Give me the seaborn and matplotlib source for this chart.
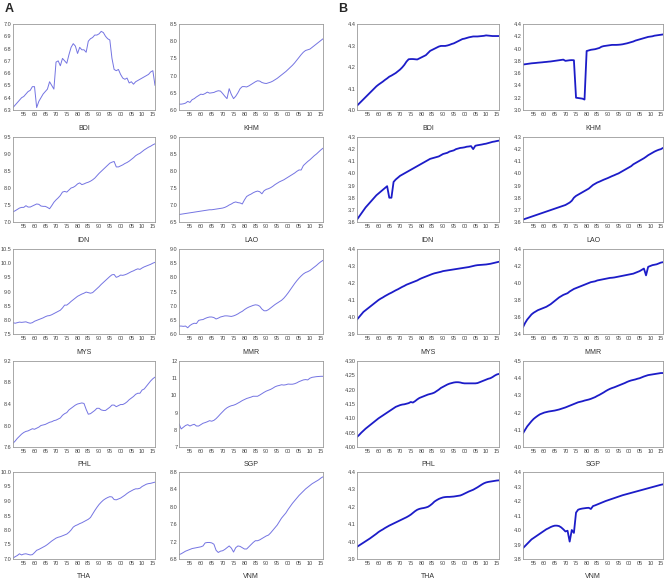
import numpy as np
import pandas as pd
import matplotlib
matplotlib.use('Agg')
import matplotlib.pyplot as plt
import seaborn as sns

sns.set_style('white')
plt.rcParams['font.family'] = ['Liberation Sans', 'DejaVu Sans']

years = list(range(1950, 2017))
countries = ['BDI', 'KHM', 'IDN', 'LAO', 'MYS', 'MMR', 'PHL', 'SGP', 'THA', 'VNM']

# ---- Panel A series ----
A_BDI = [6.32, 6.34, 6.36, 6.38, 6.40, 6.41, 6.43, 6.45, 6.46, 6.49,
         6.49, 6.32, 6.37, 6.40, 6.43, 6.45, 6.47, 6.53, 6.50, 6.47,
         6.69, 6.70, 6.66, 6.72, 6.70, 6.68, 6.75, 6.81, 6.84, 6.82,
         6.76, 6.81, 6.79, 6.79, 6.77, 6.86, 6.88, 6.89, 6.91, 6.91,
         6.92, 6.94, 6.93, 6.90, 6.88, 6.87, 6.72, 6.63, 6.62, 6.63,
         6.59, 6.56, 6.55, 6.56, 6.52, 6.53, 6.51, 6.53, 6.54, 6.55,
         6.56, 6.57, 6.58, 6.59, 6.61, 6.62, 6.50]
A_KHM = [6.17, 6.17, 6.18, 6.20, 6.25, 6.22, 6.30, 6.33, 6.38, 6.42,
         6.46, 6.45, 6.48, 6.52, 6.49, 6.50, 6.51, 6.54, 6.56, 6.55,
         6.48, 6.40, 6.33, 6.62, 6.45, 6.33, 6.40, 6.50, 6.62, 6.68,
         6.68, 6.67, 6.70, 6.74, 6.78, 6.82, 6.85, 6.84, 6.80, 6.78,
         6.77, 6.79, 6.81, 6.84, 6.88, 6.92, 6.97, 7.02, 7.07, 7.12,
         7.18, 7.24, 7.30, 7.37, 7.45, 7.53, 7.61, 7.68, 7.73, 7.75,
         7.77, 7.82, 7.87, 7.92, 7.97, 8.02, 8.07]
A_IDN = [7.30, 7.33, 7.37, 7.41, 7.43, 7.43, 7.48, 7.44, 7.44, 7.47,
         7.50, 7.53, 7.52, 7.47, 7.46, 7.46, 7.43, 7.39, 7.48, 7.58,
         7.65, 7.71, 7.78, 7.88, 7.90, 7.88, 7.94, 8.00, 8.02, 8.06,
         8.12, 8.15, 8.10, 8.12, 8.15, 8.17, 8.20, 8.24, 8.29, 8.36,
         8.43, 8.49, 8.55, 8.61, 8.67, 8.73, 8.76, 8.78, 8.62, 8.62,
         8.65, 8.68, 8.72, 8.75, 8.79, 8.84, 8.89, 8.95, 8.99, 9.02,
         9.07, 9.12, 9.16, 9.20, 9.23, 9.27, 9.30]
A_LAO = [6.72, 6.73, 6.74, 6.75, 6.76, 6.77, 6.78, 6.79, 6.80, 6.81,
         6.82, 6.83, 6.84, 6.85, 6.86, 6.86, 6.87, 6.88, 6.89, 6.90,
         6.91, 6.93, 6.96, 7.00, 7.03, 7.07, 7.09, 7.07, 7.06, 7.03,
         7.15, 7.25, 7.29, 7.32, 7.36, 7.39, 7.41, 7.39, 7.33, 7.42,
         7.46, 7.48, 7.51, 7.55, 7.60, 7.64, 7.68, 7.71, 7.74, 7.78,
         7.82, 7.86, 7.90, 7.94, 7.99, 8.03, 8.03, 8.16, 8.22, 8.28,
         8.33, 8.39, 8.45, 8.50, 8.56, 8.62, 8.67]
A_MYS = [7.90, 7.88, 7.90, 7.92, 7.91, 7.92, 7.93, 7.90, 7.88, 7.90,
         7.95, 7.98, 8.01, 8.04, 8.07, 8.11, 8.14, 8.15, 8.18, 8.22,
         8.26, 8.30, 8.34, 8.42, 8.52, 8.52, 8.58, 8.65, 8.71, 8.77,
         8.83, 8.87, 8.91, 8.94, 8.98, 8.96, 8.94, 8.96, 9.03, 9.10,
         9.17, 9.25, 9.32, 9.39, 9.46, 9.53, 9.59, 9.60, 9.50, 9.53,
         9.58, 9.57, 9.59, 9.62, 9.66, 9.70, 9.73, 9.77, 9.80, 9.78,
         9.83, 9.87, 9.90, 9.93, 9.96, 10.00, 10.03]
A_MMR = [6.28, 6.28, 6.27, 6.28, 6.22, 6.30, 6.35, 6.38, 6.37, 6.48,
         6.50, 6.51, 6.55, 6.58, 6.60, 6.60, 6.58, 6.53, 6.56, 6.60,
         6.62, 6.64, 6.64, 6.63, 6.62, 6.64, 6.67, 6.71, 6.76, 6.80,
         6.86, 6.91, 6.95, 6.98, 7.01, 7.03, 7.02, 6.98, 6.88, 6.82,
         6.82, 6.86, 6.92, 6.98, 7.04, 7.09, 7.14, 7.19, 7.26, 7.35,
         7.45, 7.56, 7.67, 7.78, 7.88, 7.97, 8.05, 8.12, 8.17, 8.20,
         8.24, 8.30, 8.36, 8.42, 8.49, 8.55, 8.60]
A_PHL = [7.67, 7.71, 7.76, 7.80, 7.84, 7.87, 7.89, 7.90, 7.92, 7.94,
         7.93, 7.95, 7.97, 8.00, 8.01, 8.02, 8.04, 8.06, 8.07, 8.09,
         8.10, 8.12, 8.14, 8.19, 8.22, 8.24, 8.29, 8.32, 8.35, 8.38,
         8.40, 8.41, 8.42, 8.41, 8.30, 8.21, 8.22, 8.25, 8.28, 8.32,
         8.32, 8.29, 8.28, 8.28, 8.31, 8.34, 8.38, 8.38, 8.35, 8.37,
         8.39, 8.39, 8.41, 8.44, 8.48, 8.51, 8.54, 8.58, 8.60, 8.60,
         8.66, 8.68, 8.73, 8.78, 8.83, 8.87, 8.90]
A_SGP = [8.35, 8.05, 8.15, 8.25, 8.30, 8.22, 8.28, 8.32, 8.22, 8.22,
         8.30, 8.38, 8.42, 8.47, 8.53, 8.50, 8.55, 8.65, 8.78, 8.92,
         9.05, 9.18, 9.28, 9.35, 9.40, 9.43, 9.48, 9.55, 9.62, 9.70,
         9.76, 9.82, 9.86, 9.90, 9.95, 9.95, 9.95, 10.02, 10.10, 10.18,
         10.25, 10.30, 10.35, 10.42, 10.50, 10.55, 10.58, 10.62, 10.60, 10.62,
         10.66, 10.65, 10.65, 10.68, 10.73, 10.80, 10.85, 10.90, 10.92, 10.90,
         11.00, 11.05, 11.07, 11.09, 11.10, 11.11, 11.11]
A_THA = [7.03, 7.08, 7.12, 7.18, 7.14, 7.17, 7.18, 7.16, 7.14, 7.15,
         7.22, 7.30, 7.33, 7.37, 7.41, 7.45, 7.50, 7.56, 7.62, 7.67,
         7.72, 7.75, 7.77, 7.80, 7.83, 7.86, 7.92, 8.00, 8.10, 8.15,
         8.18, 8.22, 8.25, 8.29, 8.33, 8.37, 8.43, 8.55, 8.67, 8.78,
         8.88, 8.96, 9.03, 9.08, 9.12, 9.15, 9.14, 9.05, 9.04, 9.07,
         9.10, 9.15, 9.20, 9.26, 9.31, 9.35, 9.39, 9.42, 9.42, 9.44,
         9.50, 9.54, 9.58, 9.60, 9.61, 9.63, 9.65]
A_VNM = [6.90, 6.92, 6.95, 6.98, 7.00, 7.02, 7.04, 7.05, 7.06, 7.07,
         7.08, 7.10, 7.17, 7.18, 7.18, 7.17, 7.14, 7.00, 6.95, 6.98,
         6.99, 7.02, 7.06, 7.10, 7.05, 6.96, 7.06, 7.10, 7.09, 7.06,
         7.03, 7.03, 7.08, 7.13, 7.18, 7.22, 7.22, 7.24, 7.27, 7.30,
         7.33, 7.35, 7.40, 7.46, 7.52, 7.58, 7.66, 7.74, 7.80, 7.86,
         7.94, 8.01, 8.08, 8.14, 8.20, 8.26, 8.31, 8.36, 8.41, 8.45,
         8.49, 8.53, 8.56, 8.59, 8.62, 8.66, 8.69]

# ---- Panel B series ----
B_BDI = [4.020, 4.030, 4.040, 4.050, 4.060, 4.070, 4.080, 4.090, 4.100, 4.110,
         4.118, 4.125, 4.132, 4.140, 4.147, 4.155, 4.160, 4.166, 4.172, 4.180,
         4.188, 4.198, 4.210, 4.225, 4.236, 4.237, 4.237, 4.236, 4.235, 4.240,
         4.245, 4.250, 4.255, 4.265, 4.275, 4.280, 4.285, 4.290, 4.295, 4.298,
         4.298, 4.298, 4.300, 4.303, 4.307, 4.310, 4.315, 4.320, 4.325, 4.330,
         4.332, 4.335, 4.338, 4.340, 4.342, 4.342, 4.342, 4.343, 4.344, 4.345,
         4.347, 4.346, 4.345, 4.344, 4.344, 4.344, 4.344]
B_KHM = [3.74, 3.745, 3.75, 3.755, 3.76, 3.763, 3.766, 3.77, 3.773, 3.776,
         3.78, 3.783, 3.787, 3.79, 3.795, 3.80, 3.805, 3.81, 3.815, 3.82,
         3.80, 3.805, 3.81, 3.812, 3.81, 3.20, 3.195, 3.19, 3.185, 3.17,
         3.96, 3.97, 3.98, 3.985, 3.99, 4.00, 4.01, 4.03, 4.04, 4.045,
         4.05, 4.055, 4.06, 4.06, 4.06, 4.062, 4.065, 4.07, 4.078, 4.085,
         4.095, 4.105, 4.115, 4.13, 4.14, 4.15, 4.16, 4.17, 4.18, 4.19,
         4.195, 4.20, 4.21, 4.215, 4.22, 4.225, 4.23]
B_IDN = [3.62, 3.645, 3.67, 3.695, 3.72, 3.74, 3.76, 3.78, 3.80, 3.82,
         3.835, 3.85, 3.865, 3.88, 3.895, 3.80, 3.80, 3.93, 3.95, 3.965,
         3.98, 3.99, 4.00, 4.01, 4.02, 4.03, 4.04, 4.05, 4.06, 4.07,
         4.08, 4.09, 4.10, 4.11, 4.12, 4.125, 4.13, 4.135, 4.14, 4.15,
         4.16, 4.165, 4.17, 4.18, 4.185, 4.19, 4.20, 4.205, 4.21, 4.212,
         4.215, 4.22, 4.222, 4.225, 4.20, 4.228, 4.232, 4.235, 4.238, 4.242,
         4.245, 4.25, 4.255, 4.26, 4.263, 4.267, 4.27]
B_LAO = [3.62, 3.626, 3.632, 3.638, 3.644, 3.65, 3.656, 3.662, 3.668, 3.674,
         3.68, 3.686, 3.692, 3.698, 3.704, 3.71, 3.716, 3.722, 3.728, 3.734,
         3.74, 3.75, 3.76, 3.775, 3.80, 3.815, 3.825, 3.835, 3.845, 3.855,
         3.865, 3.875, 3.89, 3.905, 3.915, 3.925, 3.932, 3.94, 3.948, 3.955,
         3.962, 3.97, 3.978, 3.985, 3.993, 4.00, 4.01, 4.02, 4.03, 4.04,
         4.05, 4.06, 4.075, 4.085, 4.095, 4.105, 4.115, 4.125, 4.137, 4.15,
         4.16, 4.17, 4.18, 4.188, 4.195, 4.20, 4.21]
B_MYS = [3.985, 4.00, 4.015, 4.03, 4.04, 4.05, 4.06, 4.07, 4.08, 4.09,
         4.10, 4.108, 4.115, 4.123, 4.13, 4.137, 4.143, 4.15, 4.157, 4.163,
         4.17, 4.177, 4.183, 4.19, 4.195, 4.20, 4.205, 4.21, 4.215, 4.222,
         4.228, 4.233, 4.238, 4.243, 4.248, 4.253, 4.257, 4.26, 4.263, 4.266,
         4.27, 4.272, 4.274, 4.276, 4.278, 4.28, 4.282, 4.284, 4.286, 4.288,
         4.29, 4.292, 4.294, 4.297, 4.30, 4.303, 4.305, 4.306, 4.307, 4.308,
         4.309, 4.311, 4.313, 4.316, 4.319, 4.322, 4.325]
B_MMR = [3.48, 3.53, 3.57, 3.60, 3.63, 3.65, 3.665, 3.68, 3.69, 3.70,
         3.71, 3.72, 3.735, 3.75, 3.77, 3.79, 3.81, 3.83, 3.845, 3.86,
         3.87, 3.88, 3.90, 3.915, 3.93, 3.94, 3.95, 3.96, 3.97, 3.98,
         3.99, 4.00, 4.01, 4.015, 4.02, 4.03, 4.035, 4.04, 4.045, 4.05,
         4.055, 4.06, 4.062, 4.065, 4.07, 4.075, 4.08, 4.085, 4.09, 4.095,
         4.10, 4.105, 4.11, 4.12, 4.13, 4.14, 4.155, 4.17, 4.09, 4.19,
         4.20, 4.21, 4.215, 4.22, 4.23, 4.24, 4.245]
B_PHL = [4.035, 4.042, 4.05, 4.057, 4.064, 4.07, 4.076, 4.082, 4.088, 4.094,
         4.10, 4.105, 4.11, 4.115, 4.12, 4.125, 4.13, 4.135, 4.14, 4.143,
         4.146, 4.148, 4.149, 4.151, 4.153, 4.157, 4.155, 4.16, 4.166, 4.171,
         4.174, 4.177, 4.18, 4.183, 4.185, 4.187, 4.19, 4.195, 4.20, 4.206,
         4.21, 4.214, 4.218, 4.221, 4.223, 4.225, 4.226, 4.226, 4.225, 4.223,
         4.222, 4.222, 4.222, 4.222, 4.222, 4.222, 4.223, 4.226, 4.229, 4.232,
         4.235, 4.238, 4.24, 4.244, 4.249, 4.253, 4.255]
B_SGP = [4.08, 4.10, 4.12, 4.135, 4.15, 4.163, 4.173, 4.182, 4.19, 4.195,
         4.20, 4.203, 4.206, 4.208, 4.21, 4.212, 4.215, 4.218, 4.222, 4.226,
         4.23, 4.235, 4.24, 4.245, 4.25, 4.255, 4.26, 4.263, 4.266, 4.27,
         4.273, 4.276, 4.28, 4.285, 4.29, 4.297, 4.303, 4.31, 4.317, 4.325,
         4.332, 4.338, 4.343, 4.347, 4.352, 4.357, 4.362, 4.367, 4.372, 4.378,
         4.383, 4.387, 4.39, 4.393, 4.397, 4.40, 4.405, 4.41, 4.414, 4.418,
         4.42, 4.422, 4.424, 4.426, 4.428, 4.43, 4.43]
B_THA = [3.97, 3.978, 3.986, 3.994, 4.002, 4.01, 4.018, 4.027, 4.036, 4.045,
         4.055, 4.063, 4.07, 4.078, 4.085, 4.092, 4.098, 4.104, 4.11, 4.116,
         4.122, 4.128, 4.134, 4.14, 4.147, 4.155, 4.165, 4.175, 4.183, 4.188,
         4.191, 4.193, 4.196, 4.20, 4.208, 4.218, 4.23, 4.238, 4.245, 4.25,
         4.254, 4.256, 4.257, 4.257, 4.258, 4.259, 4.261, 4.263, 4.265, 4.27,
         4.276, 4.282, 4.288, 4.293, 4.298, 4.305, 4.312, 4.32, 4.328, 4.335,
         4.34, 4.343, 4.345, 4.347, 4.349, 4.351, 4.352]
B_VNM = [3.875, 3.89, 3.905, 3.92, 3.935, 3.945, 3.955, 3.965, 3.975, 3.985,
         3.995, 4.005, 4.012, 4.02, 4.026, 4.03, 4.03, 4.027, 4.018, 4.005,
         3.99, 3.995, 3.92, 4.00, 3.98, 4.12, 4.14, 4.145, 4.148, 4.15,
         4.152, 4.153, 4.145, 4.165, 4.17, 4.176, 4.182, 4.188, 4.194, 4.20,
         4.205, 4.21, 4.215, 4.22, 4.225, 4.23, 4.235, 4.24, 4.244, 4.248,
         4.252, 4.256, 4.26, 4.264, 4.268, 4.272, 4.276, 4.28, 4.284, 4.288,
         4.292, 4.296, 4.30, 4.304, 4.308, 4.312, 4.315]

A_series = [A_BDI, A_KHM, A_IDN, A_LAO, A_MYS, A_MMR, A_PHL, A_SGP, A_THA, A_VNM]
B_series = [B_BDI, B_KHM, B_IDN, B_LAO, B_MYS, B_MMR, B_PHL, B_SGP, B_THA, B_VNM]

# y-axis tick settings: (min, max, step, decimals)
A_yaxis = [(6.3, 7.0, 0.1, 1), (6.0, 8.5, 0.5, 1), (7.0, 9.5, 0.5, 1), (6.5, 9.0, 0.5, 1),
           (7.5, 10.5, 0.5, 1), (6.0, 9.0, 0.5, 1), (7.6, 9.2, 0.4, 1), (7, 12, 1, 0),
           (7.0, 10.0, 0.5, 1), (6.8, 8.8, 0.4, 1)]
B_yaxis = [(4.0, 4.4, 0.1, 1), (3.0, 4.4, 0.2, 1), (3.6, 4.3, 0.1, 1), (3.6, 4.3, 0.1, 1),
           (3.9, 4.4, 0.1, 1), (3.4, 4.4, 0.2, 1), (4.0, 4.3, 0.05, 2), (4.0, 4.5, 0.1, 1),
           (3.9, 4.4, 0.1, 1), (3.8, 4.4, 0.1, 1)]

W, H = 669, 583
fig = plt.figure(figsize=(W / 100, H / 100), dpi=100)

cols = {'A': [(13, 155), (179, 323)], 'B': [(357, 499), (523, 663)]}
rows = [(24, 110), (137, 222), (249, 334), (361, 447), (472, 559)]
line_style = {'A': dict(color='#7474e2', linewidth=0.7),
              'B': dict(color='#1c1cc8', linewidth=1.3)}

xticks = list(range(1955, 2016, 5))

for part, series_list, yaxes in (('A', A_series, A_yaxis), ('B', B_series, B_yaxis)):
    for i, (name, vals, (y0, y1, st, dec)) in enumerate(zip(countries, series_list, yaxes)):
        r, c = divmod(i, 2)
        l, rr = cols[part][c]
        t, b = rows[r]
        ax = fig.add_axes([l / W, 1 - b / H, (rr - l) / W, (b - t) / H])
        df = pd.DataFrame({'year': years, 'value': vals})
        sns.lineplot(data=df, x='year', y='value', ax=ax, **line_style[part])
        ax.set_xlim(1950, 2016)
        ax.set_ylim(y0, y1)
        yt = np.round(np.arange(y0, y1 + st / 2, st), 4)
        ax.set_yticks(yt)
        ax.set_yticklabels([f'{v:.{dec}f}' for v in yt])
        ax.set_xticks(xticks)
        ax.set_xticklabels([f'{x % 100:02d}' for x in xticks])
        ax.tick_params(axis='both', labelsize=4.0, colors='#444444', length=0,
                       width=0.5, pad=1.2)
        ax.set_xlabel('')
        ax.set_ylabel('')
        for s in ax.spines.values():
            s.set_color('#9a9a9a')
            s.set_linewidth(0.6)
        ax.text(0.5, -18 / (b - t), name, transform=ax.transAxes, ha='center',
                va='center', fontsize=5, color='#333333')

fig.text(5 / W, 1 - 9 / H, 'A', fontsize=9, fontweight='bold', va='center', ha='left')
fig.text(338 / W, 1 - 9 / H, 'B', fontsize=9, fontweight='bold', va='center', ha='left')

fig.savefig('out.png', dpi=100)
